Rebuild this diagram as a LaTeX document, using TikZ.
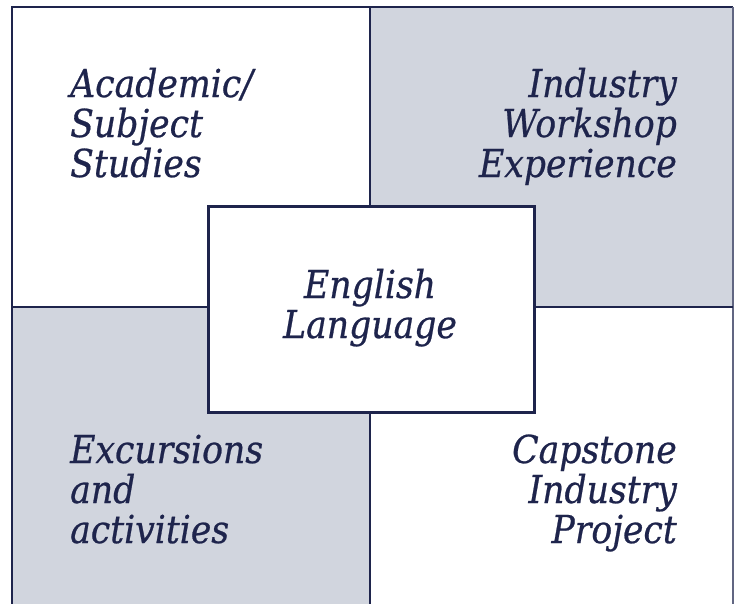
\documentclass[tikz,border=0pt]{standalone}
\usepackage{fontspec}
\setmainfont{DejaVu Serif Condensed}[ItalicFeatures={FakeBold=0.6}]
\definecolor{navy}{RGB}{30,36,76}
\definecolor{panelgrey}{RGB}{209,213,222}
\tikzset{
  lbl/.style={text=navy, font=\itshape\fontsize{38.5}{40}\selectfont, inner sep=0pt},
  lblL/.style={lbl, align=left, anchor=base west},
  lblR/.style={lbl, align=right, anchor=base east},
  lblC/.style={lbl, align=center, anchor=base},
  divider/.style={draw=navy, line width=2.6pt},
  centrebox/.style={draw=navy, line width=3pt, fill=white}
}
\begin{document}
\begin{tikzpicture}[x=1pt,y=-1pt]
\useasboundingbox (0,0) rectangle (734,603);
\clip (0,0) rectangle (734,603);
\fill[white] (0,0) rectangle (734,603);
% quadrants
\fill[panelgrey] (370,7) rectangle (733,307);
\fill[panelgrey] (12,307) rectangle (370,620);
\coordinate (tl) at (12,7);
\coordinate (tr) at (733,7);
\coordinate (bl) at (12,620);
\coordinate (br) at (733,620);
\coordinate (vt) at (370,7);
\coordinate (vb) at (370,620);
\coordinate (hl) at (12,307);
\coordinate (hr) at (733,307);
\draw[divider] (bl) -- (tl) -- (tr);
\draw[navy!70, line width=2pt] (tr) -- (br);
\draw[divider] (vt) -- (vb);
\draw[divider] (hl) -- (hr);
% centre box
\node[centrebox, minimum width=326pt, minimum height=206pt, anchor=north west] (centre) at (207,205) {};
% labels (anchor = baseline of last line)
\node[lblL] (academic) at (70,177) {Academic/\\Subject\\Studies};
\node[lblR] (industry) at (677,177) {Industry\\Workshop\\Experience};
\node[lblC] (english) at (370,338) {English\\Language};
\node[lblL] (excursions) at (70,543) {Excursions\\and\\activities};
\node[lblR] (capstone) at (677,543) {Capstone\\Industry\\Project};
\end{tikzpicture}
\end{document}
